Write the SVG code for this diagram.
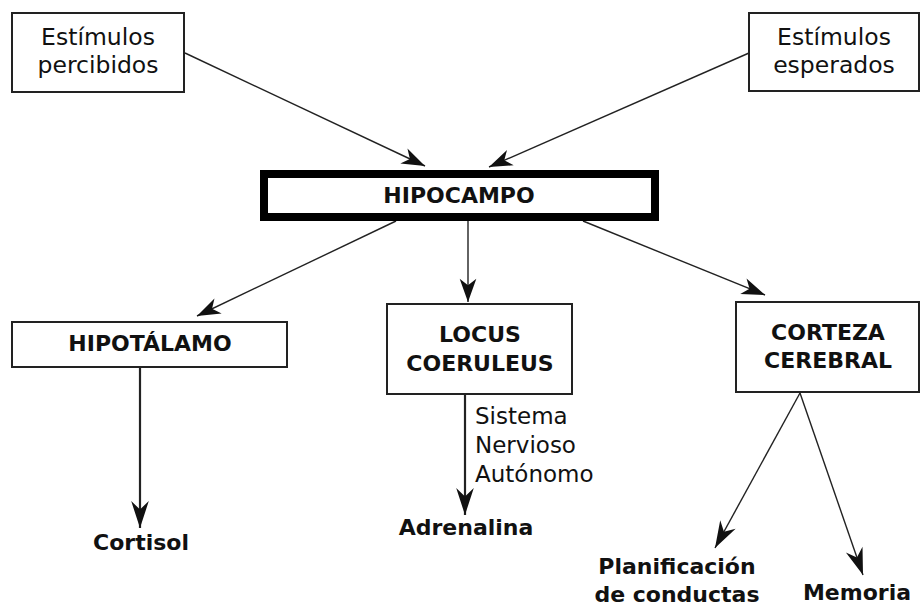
<svg xmlns="http://www.w3.org/2000/svg" width="920" height="608" viewBox="0 0 920 608">
<style>
.box{fill:#fff;stroke:#222;stroke-width:2}
.t{font-family:"DejaVu Sans","Noto Sans",sans-serif;font-size:23.5px;fill:#111;text-anchor:middle}
.b{font-weight:700;font-size:22px}
.l{text-anchor:start;font-size:23px}
.c{stroke:#222;fill:none}
.thin{stroke-width:1.4}
.thick{stroke-width:2.2}
</style>
<defs>
<marker id="ah" markerUnits="userSpaceOnUse" markerWidth="30" markerHeight="20" viewBox="-22 -9 24 18" refX="0" refY="0" orient="auto">
<path d="M0,0 L-21,-7.5 L-15,0 L-21,7.5 Z" fill="#111"/>
</marker>
<marker id="ahb" markerUnits="userSpaceOnUse" markerWidth="30" markerHeight="22" viewBox="-27 -10 29 20" refX="0" refY="0" orient="auto">
<path d="M0,0 L-26,-8.5 L-18,0 L-26,8.5 Z" fill="#111"/>
</marker>
</defs>
<rect width="920" height="608" fill="#fff"/>
<g id="connectors">
<line class="c thin" x1="185" y1="53" x2="425" y2="166" marker-end="url(#ah)"/>
<line class="c thin" x1="749" y1="53" x2="489" y2="167" marker-end="url(#ah)"/>
<line class="c thin" x1="396" y1="221" x2="197" y2="316" marker-end="url(#ah)"/>
<line class="c thin" x1="468" y1="221" x2="468" y2="302" marker-end="url(#ah)"/>
<line class="c thin" x1="583" y1="221" x2="765" y2="295" marker-end="url(#ah)"/>
<line class="c thick" x1="140" y1="367" x2="140" y2="528" marker-end="url(#ahb)"/>
<line class="c thick" x1="465" y1="394" x2="465" y2="515" marker-end="url(#ahb)"/>
<line class="c thin" x1="800" y1="393" x2="715" y2="548" marker-end="url(#ahb)"/>
<line class="c thin" x1="800" y1="393" x2="863" y2="575" marker-end="url(#ahb)"/>
</g>
<g id="estimulos-percibidos">
<rect class="box" x="12" y="13" width="172" height="79"/>
<text class="t" x="98" y="45">Estímulos</text>
<text class="t" x="98" y="73">percibidos</text>
</g>
<g id="estimulos-esperados">
<rect class="box" x="749" y="13" width="170" height="78"/>
<text class="t" x="834" y="45">Estímulos</text>
<text class="t" x="834" y="73">esperados</text>
</g>
<g id="hipocampo">
<rect x="264" y="174" width="391" height="43" fill="#fff" stroke="#000" stroke-width="8"/>
<text class="t b" x="459" y="203">HIPOCAMPO</text>
</g>
<g id="hipotalamo">
<rect class="box" x="12" y="322" width="275" height="45"/>
<text class="t b" x="150" y="351">HIPOTÁLAMO</text>
</g>
<g id="locus-coeruleus">
<rect class="box" x="387" y="304" width="185" height="90"/>
<text class="t b" x="480" y="342">LOCUS</text>
<text class="t b" x="480" y="371">COERULEUS</text>
</g>
<g id="corteza-cerebral">
<rect class="box" x="736" y="302" width="183" height="90"/>
<text class="t b" x="828" y="340">CORTEZA</text>
<text class="t b" x="828" y="368">CEREBRAL</text>
</g>
<g id="cortisol">
<text class="t b" x="141" y="550">Cortisol</text>
</g>
<g id="sna-label">
<text class="t l" x="475" y="424">Sistema</text>
<text class="t l" x="475" y="453">Nervioso</text>
<text class="t l" x="475" y="482">Autónomo</text>
</g>
<g id="adrenalina">
<text class="t b" x="466" y="535">Adrenalina</text>
</g>
<g id="planificacion">
<text class="t b" x="677" y="574">Planificación</text>
<text class="t b" x="677" y="602">de conductas</text>
</g>
<g id="memoria">
<text class="t b" x="857" y="600">Memoria</text>
</g>
</svg>
